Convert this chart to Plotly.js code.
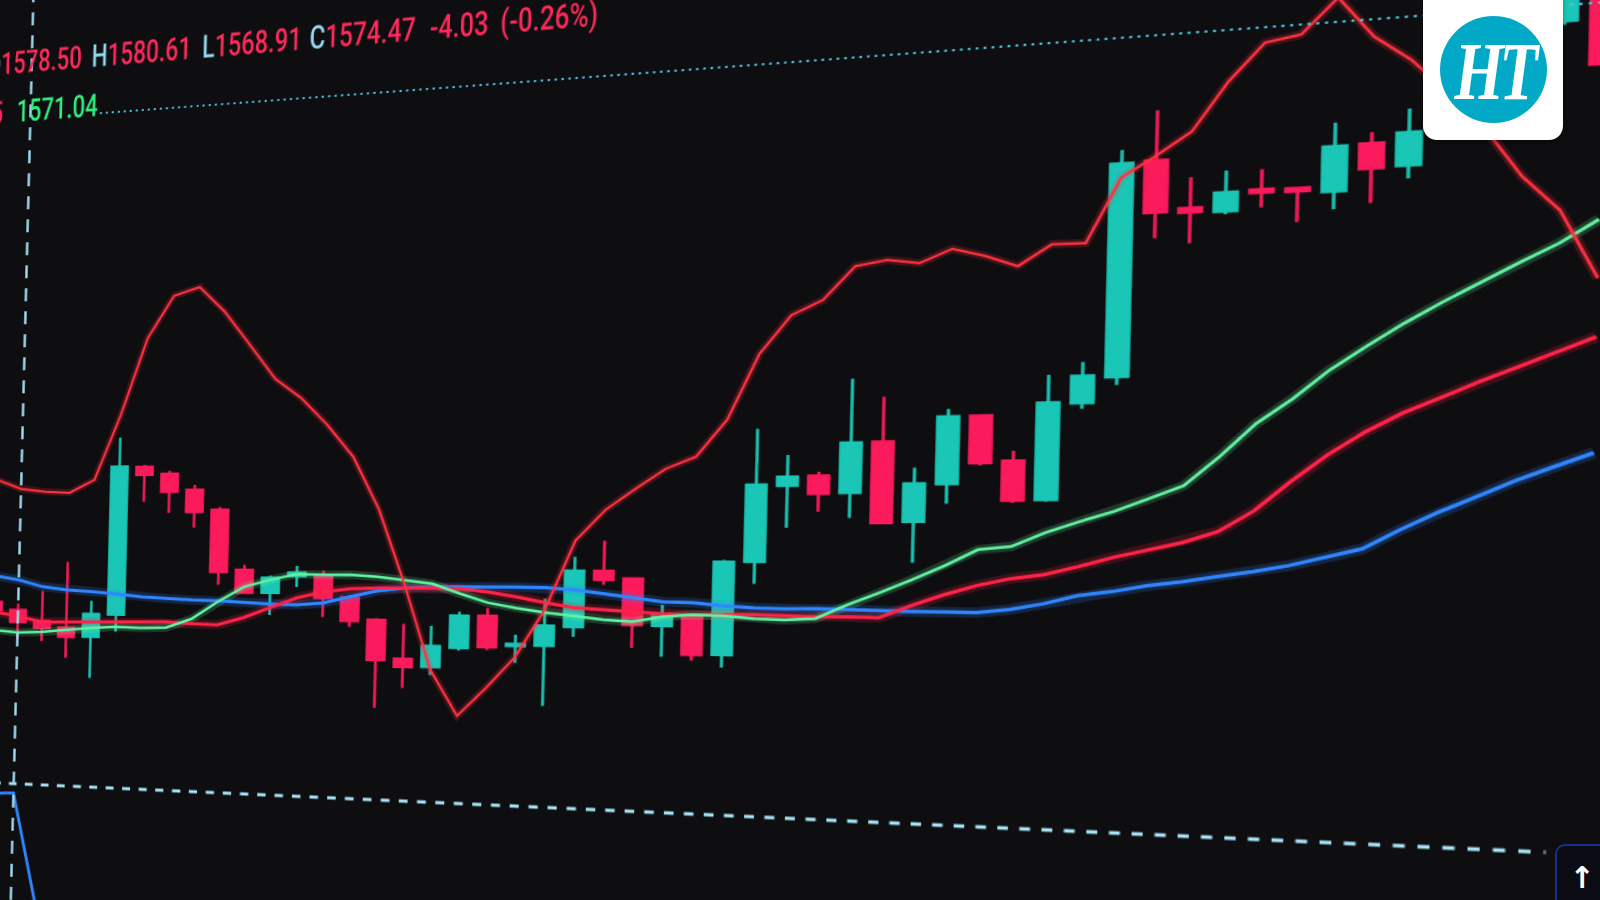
<!DOCTYPE html>
<html>
<head>
<meta charset="utf-8">
<script src="https://cdn.plot.ly/plotly-3.0.1.min.js"></script>
<style>
html,body{margin:0;padding:0;width:1600px;height:900px;overflow:hidden;background:#0e0d10;}
#stage{position:absolute;left:0;top:0;width:1600px;height:900px;overflow:hidden;background:#0e0d10;}
#flat{position:absolute;left:0;top:0;width:1400px;height:1000px;transform-origin:0 0;}
#chart{position:absolute;left:0;top:0;width:1400px;height:1000px;}
#legend{position:absolute;left:0;top:0;width:1400px;height:1000px;pointer-events:none;}
#legend span.item{position:absolute;white-space:nowrap;font-family:Roboto,"Open Sans",sans-serif;font-weight:500;font-size:31px;line-height:1;}
#logo{position:absolute;left:1423px;top:-16px;width:140px;height:156px;background:#ffffff;border-radius:14px;z-index:5;box-shadow:0 2px 4px rgba(0,0,0,0.35);}
#logo .ring{position:absolute;left:17px;top:32px;width:107px;height:107px;border-radius:50%;background:#02a9c7;display:flex;align-items:center;justify-content:center;overflow:hidden;}
#logo .ring span{color:#ffffff;font-family:"Liberation Serif","DejaVu Serif",serif;font-weight:bold;font-style:italic;font-size:72px;line-height:1;transform:scale(0.88,1.15);letter-spacing:-5px;margin-top:2px;}
#btn{position:absolute;left:1555px;top:844px;width:54px;height:70px;border:2px solid #1c2c8e;border-radius:10px;background:#0a0b13;z-index:5;color:#ffffff;font-family:"DejaVu Sans",sans-serif;font-weight:bold;font-size:30px;line-height:64px;text-align:center;box-sizing:border-box;}
</style>
</head>
<body>
<div id="stage">
  <div id="flat">
    <div id="chart"></div>
    <div id="legend"></div>
  </div>
  <div id="logo"><div class="ring"><span>HT</span></div></div>
  <div id="btn">↑</div>
</div>
<script>
// ---------------- data (candle index = bar number) ----------------
const candleIndex = [0,1,2,3,4,5,6,7,8,9,10,11,12,13,14,15,16,17,18,19,20,21,22,23,24,25,26,
  27,28,29,30,31,32,33,34,35,36,37,38,39,40,41,42,43,44,45,46,47,48,49,50,51,52];

const openPrices = [1581.1,1578.50,1575.0,1572.8,1570.0,1577.4,1625.7,1623.3,1618.1,1611.6,1592.3,
  1585.1,1590.5,1590.3,1583.8,1576.9,1564.9,1562.6,1568.7,1578.7,1569.6,1569.8,1575.7,1592.7,1590.4,
  1576.4,1579.2,1568.1,1595.7,1618.0,1620.8,1615.8,1630.5,1607.4,1618.2,1637.5,1624.6,1613.5,1640.6,
  1647.7,1707.5,1693.8,1692.5,1698.0,1697.8,1696.5,1708.9,1702.5,1710.7,1718.6,1712.7,1738.2,1747.9];

const highPrices = [1582.4,1580.61,1584.9,1594.6,1581.8,1635.3,1626.3,1624.3,1619.7,1612.5,1593.9,
  1590.5,1593.7,1592.2,1584.7,1577.5,1575.8,1575.3,1579.8,1581.1,1573.0,1584.1,1596.9,1601.8,1590.7,
  1582.7,1579.5,1596.2,1634.8,1627.0,1622.0,1648.9,1643.5,1622.9,1639.6,1637.8,1627.4,1648.7,1652.1,
  1710.9,1721.4,1702.3,1703.7,1703.5,1698.0,1715.1,1711.9,1717.7,1720.5,1722.5,1731.1,1753.9,1750.5];

const lowPrices = [1577.1,1568.91,1568.3,1562.9,1556.5,1571.8,1614.3,1610.7,1605.8,1587.5,1584.6,
  1578.0,1587.0,1577.6,1574.6,1549.4,1555.8,1560.1,1567.8,1568.2,1564.4,1551.5,1572.7,1588.5,1569.7,
  1567.2,1566.2,1564.3,1589.2,1605.7,1610.3,1608.5,1606.8,1595.6,1612.5,1623.3,1612.7,1612.9,1638.9,
  1645.4,1685.9,1684.1,1691.7,1693.1,1688.6,1691.7,1692.8,1699.0,1710.2,1709.3,1710.1,1737.2,1724.0];

const closePrices = [1578.4,1574.47,1572.7,1569.8,1577.5,1625.8,1623.1,1617.5,1610.9,1591.6,1585.0,
  1589.8,1591.5,1583.6,1576.5,1564.4,1562.4,1569.1,1578.6,1569.1,1570.2,1575.9,1592.7,1590.0,1576.6,
  1579.1,1567.9,1595.6,1618.3,1620.6,1615.6,1630.3,1607.1,1618.3,1637.4,1624.1,1613.3,1640.8,1648.2,
  1707.2,1693.1,1692.7,1697.7,1697.2,1697.0,1708.7,1702.2,1711.3,1716.5,1712.0,1725.8,1751.3,1726.3];

const oscillatorLine = [1621.9,1618.8,1617.8,1617.4,1621.6,1642.8,1667.7,1681.1,1683.6,1675.3,1664.4,
  1653.3,1647.0,1638.3,1628.1,1611.4,1588.0,1561.7,1547.7,1556.5,1566.2,1580.8,1601.8,1611.1,1617.4,
  1623.3,1626.8,1637.7,1656.9,1668.0,1672.1,1681.6,1683.0,1681.7,1685.4,1683.0,1679.7,1685.5,1685.4,
  1703.3,1708.9,1715.0,1728.1,1738.1,1739.6,1748.9,1737.6,1730.8,1721.6,1711.2,1698.0,1688.6,1670.5];

const blueMA = [1589.8,1588.5,1586.3,1585.3,1584.8,1584.2,1583.3,1582.8,1582.5,1582.3,1581.8,
  1581.5,1581.3,1582.0,1584.1,1586.0,1587.0,1587.4,1587.5,1587.6,1587.6,1587.5,1586.9,1585.8,1584.7,
  1583.6,1583.4,1582.6,1582.1,1581.9,1582.1,1581.9,1581.7,1581.6,1581.6,1581.5,1582.5,1584.2,1586.6,
  1587.8,1589.5,1590.7,1592.2,1593.6,1595.3,1597.5,1599.9,1605.0,1609.6,1613.7,1617.9,1621.5,1625.0];

const greenMA = [1571.7,1571.04,1571.3,1572.1,1572.9,1573.4,1573.2,1573.4,1576.4,1582.0,1586.9,
  1589.2,1591.1,1590.9,1591.0,1590.4,1589.5,1588.4,1585.4,1582.7,1581.2,1579.9,1579.0,1578.0,1577.5,
  1579.1,1579.8,1579.7,1578.9,1578.7,1579.2,1583.3,1586.9,1590.7,1594.8,1599.4,1600.3,1604.2,1607.3,
  1610.1,1613.6,1617.2,1625.1,1634.0,1640.6,1648.2,1654.4,1660.3,1665.6,1670.5,1675.4,1680.0,1685.8];

const redMA = [1577.7,1576.5,1574.6,1574.8,1574.9,1575.1,1575.2,1575.3,1574.8,1574.6,1577.0,
  1580.3,1583.5,1585.5,1586.6,1586.9,1587.0,1587.1,1586.9,1586.0,1584.6,1582.9,1581.5,1581.0,1580.5,
  1580.0,1579.8,1580.0,1580.1,1579.9,1579.7,1579.8,1579.7,1583.3,1586.5,1589.2,1591.2,1592.4,1594.7,
  1597.3,1599.5,1601.5,1604.5,1610.2,1618.1,1625.3,1631.3,1636.2,1640.1,1644.1,1647.8,1651.5,1655.2];

const lowerPaneIndex = [0,1,2];
const lowerPaneValues = [1517.1,1517.6,1481.4];

const legendLabels = ['O','H','L','C'];
const legendNumbers = ['1578.50','1580.61','1568.91','1574.47'];
const legendChange = ['-4.03','(-0.26%)'];
const indicatorLegend = ['1576.45','1571.04'];

const crosshairBar = 1;
const crosshairPrice = 1520.7;
const guidePrice = 1742.3;

// ---------------- styling ----------------
const BG = '#0e0d10';
const UP = '#1ac6b6';
const DOWN = '#fb1a5b';
const LBL = '#93d9f1';
const TXT_RED = '#ff2a5c';
const TXT_GREEN = '#2ff07e';
const TEXT_SQUEEZE = 0.73;

const W = 1400, H = 1000;
const XR = [-2.5, 53.5];
const YR = [1466.6667, 1800];

function lineTrace(y, color, width, glow) {
  return {
    type: 'scatter', mode: 'lines', x: candleIndex, y: y,
    line: {color: color, width: width, shape: 'linear'},
    opacity: glow ? 0.2 : 1, hoverinfo: 'skip', showlegend: false
  };
}

const traces = [
  lineTrace(blueMA, '#2f86ff', 9, true),
  lineTrace(redMA, '#ff2348', 9, true),
  lineTrace(greenMA, '#62f3a2', 8, true),
  lineTrace(oscillatorLine, '#ff3040', 7, true),
  lineTrace(blueMA, '#2f86ff', 3),
  lineTrace(redMA, '#ff2348', 3),
  lineTrace(greenMA, '#62f3a2', 2.5),
  lineTrace(oscillatorLine, '#ff3141', 2.2),
  {type:'scatter', mode:'lines', x: lowerPaneIndex, y: lowerPaneValues,
   line:{color:'#2f86ff', width:3}, hoverinfo:'skip', showlegend:false},
  {
    type: 'candlestick', x: candleIndex,
    open: openPrices, high: highPrices, low: lowPrices, close: closePrices,
    increasing: {line: {color: UP, width: 2.5}, fillcolor: UP},
    decreasing: {line: {color: DOWN, width: 2.5}, fillcolor: DOWN},
    whiskerwidth: 0, hoverinfo: 'skip', showlegend: false
  }
];

const shapes = [
  {type:'line', xref:'x', yref:'y', x0:3.85, x1:XR[1], y0:guidePrice, y1:guidePrice,
   line:{color:'#4fc4df', width:2, dash:'2px,4px'}},
  {type:'line', xref:'x', yref:'y', x0:XR[0], x1:51.0, y0:crosshairPrice, y1:crosshairPrice,
   line:{color:'#a6e4f6', width:3, dash:'8px,8.5px'}},
  {type:'line', xref:'x', yref:'y', x0:crosshairBar, x1:crosshairBar, y0:YR[0], y1:YR[1],
   line:{color:'#9fdcf0', width:2.5, dash:'13px,10px'}}
];

const layout = {
  width: W, height: H, autosize: false,
  margin: {l:0, r:0, t:0, b:0, pad:0},
  paper_bgcolor: BG, plot_bgcolor: BG,
  showlegend: false, boxgap: 0.08,
  xaxis: {range: XR, visible: false, showgrid: false, zeroline: false, rangeslider: {visible: false}, fixedrange: true},
  yaxis: {range: YR, visible: false, showgrid: false, zeroline: false, fixedrange: true},
  shapes: shapes
};

// ---------------- legend (text in the chart plane) ----------------
const px = i => (i - XR[0]) / (XR[1] - XR[0]) * W;
const py = p => (YR[1] - p) / (YR[1] - YR[0]) * H;
const lab = s => '<span style="color:' + LBL + '">' + s + '</span>';
const row1 = 1761.2, row2 = 1745.0;
const legendItems = [
  {i: 3.07, p: row1, html: lab(legendLabels[0]) + legendNumbers[0], color: TXT_RED, right: true},
  {i: 3.47, p: row1, html: lab(legendLabels[1]) + legendNumbers[1], color: TXT_RED},
  {i: 7.85, p: row1, html: lab(legendLabels[2]) + legendNumbers[2], color: TXT_RED},
  {i: 11.99, p: row1, html: lab(legendLabels[3]) + legendNumbers[3], color: TXT_RED},
  {i: 16.42, p: row1, html: legendChange[0], color: TXT_RED},
  {i: 18.92, p: row1, html: legendChange[1], color: TXT_RED},
  {i: -0.15, p: row2, html: indicatorLegend[0], color: TXT_RED, right: true},
  {i: 0.435, p: row2, html: indicatorLegend[1], color: TXT_GREEN}
];
const legendDiv = document.getElementById('legend');
legendItems.forEach(function (it) {
  const s = document.createElement('span');
  s.className = 'item';
  s.innerHTML = it.html;
  s.style.color = it.color;
  s.style.left = px(it.i) + 'px';
  s.style.top = py(it.p) + 'px';
  if (it.right) {
    s.style.transformOrigin = '100% 50%';
    s.style.transform = 'translate(-100%,-50%) scaleX(' + TEXT_SQUEEZE + ')';
  } else {
    s.style.transformOrigin = '0 50%';
    s.style.transform = 'translate(0,-50%) scaleX(' + TEXT_SQUEEZE + ')';
  }
  legendDiv.appendChild(s);
});

// ---------------- photo perspective (homography) ----------------
function solve(A, b) {
  const n = b.length;
  for (let c = 0; c < n; c++) {
    let p = c;
    for (let r = c + 1; r < n; r++) if (Math.abs(A[r][c]) > Math.abs(A[p][c])) p = r;
    [A[c], A[p]] = [A[p], A[c]]; [b[c], b[p]] = [b[p], b[c]];
    for (let r = c + 1; r < n; r++) {
      const f = A[r][c] / A[c][c];
      for (let k = c; k < n; k++) A[r][k] -= f * A[c][k];
      b[r] -= f * b[c];
    }
  }
  const x = new Array(n).fill(0);
  for (let r = n - 1; r >= 0; r--) {
    let s = b[r];
    for (let k = r + 1; k < n; k++) s -= A[r][k] * x[k];
    x[r] = s / A[r][r];
  }
  return x;
}
function homography(src, dst) {
  const A = [], b = [];
  for (let k = 0; k < 4; k++) {
    const X = src[k][0], Y = src[k][1], x = dst[k][0], y = dst[k][1];
    A.push([X, Y, 1, 0, 0, 0, -x * X, -x * Y]); b.push(x);
    A.push([0, 0, 0, X, Y, 1, -y * X, -y * Y]); b.push(y);
  }
  return solve(A, b);
}
const topPrice = 1742.7, botPrice = 1520.7;
const src = [[px(1), py(topPrice)], [px(1), py(botPrice)], [px(47), py(topPrice)], [px(47), py(botPrice)]];
const dst = [[30.4, 117.2], [13.7, 783.6], [1412.1, 15.0], [1393.0, 845.5]];

Plotly.newPlot('chart', traces, layout, {staticPlot: true, displayModeBar: false}).then(function () {
  const h = homography(src, dst);
  const m = [h[0], h[3], 0, h[6], h[1], h[4], 0, h[7], 0, 0, 1, 0, h[2], h[5], 0, 1];
  document.getElementById('flat').style.transform = 'matrix3d(' + m.join(',') + ')';
});
</script>
</body>
</html>
